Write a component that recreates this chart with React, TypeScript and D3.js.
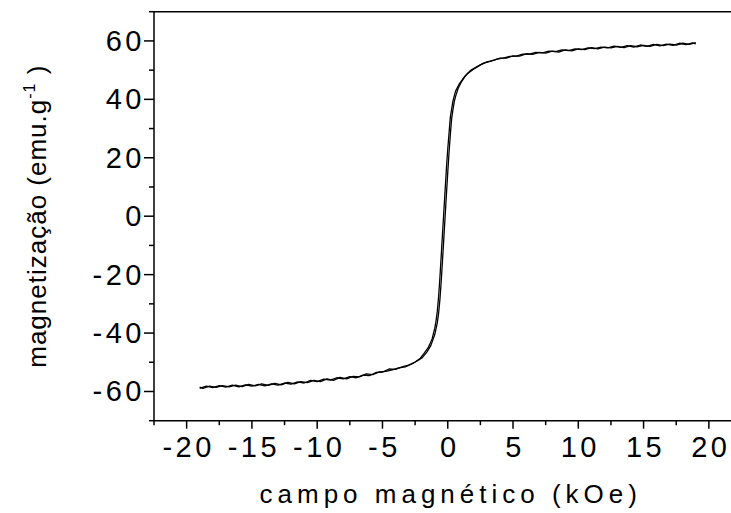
import * as d3 from "d3";
import { useEffect, useRef } from "react";

// descending branch (field swept from +19 kOe down to -19 kOe)
const fieldDown = [
  19.0, 18.5, 18.0, 17.5, 17.0, 16.5, 16.0, 15.5, 15.0, 14.5, 14.0, 13.5, 13.0, 12.5, 12.0,
  11.5, 11.0, 10.5, 10.0, 9.5, 9.0, 8.5, 8.0, 7.5, 7.0, 6.5, 6.0, 5.5, 5.0, 4.5, 4.0, 3.5,
  3.0, 2.5, 2.0, 1.5, 1.2, 0.9, 0.6, 0.4, 0.2, 0.0, -0.1, -0.2, -0.3, -0.4, -0.5, -0.6,
  -0.7, -0.8, -0.9, -1.0, -1.2, -1.5, -1.8, -2.1, -2.5, -3.0, -3.5, -4.0, -4.5, -5.0, -5.5,
  -6.0, -6.5, -7.0, -7.5, -8.0, -8.5, -9.0, -9.5, -10.0, -10.5, -11.0, -11.5, -12.0, -12.5,
  -13.0, -13.5, -14.0, -14.5, -15.0, -15.5, -16.0, -16.5, -17.0, -17.5, -18.0, -18.5, -19.0,
];
const magDown = [
  59.4, 58.8, 59.2, 58.6, 58.9, 58.4, 58.8, 58.1, 58.5, 58.0, 58.4, 57.7, 58.1, 57.6, 57.9,
  57.3, 57.7, 57.0, 57.3, 56.6, 56.9, 56.2, 56.5, 55.8, 56.1, 55.4, 55.6, 54.8, 54.9, 54.1,
  54.1, 53.3, 52.8, 51.8, 50.4, 48.8, 47.3, 45.4, 42.8, 39.5, 34.0, 23.0, 16.5, 9.0, 1.5,
  -6.0, -13.5, -21.0, -27.5, -32.5, -36.0, -38.5, -42.0, -45.0, -46.9, -48.6, -49.9, -51.0,
  -51.6, -52.4, -52.3, -53.4, -53.5, -54.6, -54.4, -55.3, -54.9, -55.7, -55.3, -56.1, -55.8,
  -56.6, -56.2, -57.1, -56.7, -57.5, -57.1, -57.8, -57.4, -58.1, -57.6, -58.2, -57.7, -58.4,
  -57.8, -58.5, -58.0, -58.7, -58.2, -58.9,
];

// ascending branch (field swept from -19 kOe up to +19 kOe)
const fieldUp = [
  -19.0, -18.75, -18.25, -17.75, -17.25, -16.75, -16.25, -15.75, -15.25, -14.75, -14.25,
  -13.75, -13.25, -12.75, -12.25, -11.75, -11.25, -10.75, -10.25, -9.75, -9.25, -8.75, -8.25,
  -7.75, -7.25, -6.75, -6.25, -5.75, -5.25, -4.75, -4.25, -3.75, -3.25, -2.75, -2.25, -1.95,
  -1.6, -1.3, -1.0, -0.8, -0.7, -0.6, -0.5, -0.4, -0.3, -0.2, -0.1, 0.0, 0.1, 0.2, 0.3, 0.4,
  0.5, 0.6, 0.8, 1.05, 1.35, 1.75, 2.25, 2.75, 3.25, 3.75, 4.25, 4.75, 5.25, 5.75, 6.25,
  6.75, 7.25, 7.75, 8.25, 8.75, 9.25, 9.75, 10.25, 10.75, 11.25, 11.75, 12.25, 12.75, 13.25,
  13.75, 14.25, 14.75, 15.25, 15.75, 16.25, 16.75, 17.25, 17.75, 18.25, 18.75, 19.0,
];
const magUp = [
  -58.5, -58.9, -58.2, -58.6, -58.0, -58.4, -57.8, -58.3, -57.6, -58.1, -57.4, -57.9, -57.2,
  -57.7, -56.9, -57.4, -56.6, -57.0, -56.2, -56.6, -55.7, -56.2, -55.2, -55.7, -54.8, -55.0,
  -54.0, -54.2, -53.3, -53.1, -52.6, -51.9, -51.6, -50.6, -49.3, -48.4, -46.5, -44.3, -40.6,
  -36.5, -33.2, -28.5, -22.3, -15.0, -7.5, 0.0, 7.5, 15.0, 22.0, 28.0, 33.5, 36.5, 39.2,
  41.0, 43.8, 46.0, 48.0, 49.9, 51.2, 52.4, 53.0, 53.8, 54.1, 54.7, 54.8, 55.5, 55.5, 56.1,
  55.9, 56.5, 56.3, 56.9, 56.7, 57.3, 57.0, 57.6, 57.4, 57.9, 57.6, 58.2, 57.8, 58.4, 57.9,
  58.6, 58.1, 58.8, 58.3, 58.9, 58.5, 59.2, 58.7, 59.3, 59.0,
];

const xMajor = [-20, -15, -10, -5, 0, 5, 10, 15, 20];
const xMinor = [-22.5, -17.5, -12.5, -7.5, -2.5, 2.5, 7.5, 12.5, 17.5];
const yMajor = [-60, -40, -20, 0, 20, 40, 60];
const yMinor = [-70, -50, -30, -10, 10, 30, 50, 70];

export default function App() {
  const ref = useRef<SVGSVGElement>(null);

  useEffect(() => {
    const svg = d3.select(ref.current);
    svg.selectAll("*").remove();

    const width = 731;
    const height = 513;
    const font = "'Liberation Sans', Arial, sans-serif";

    const x = d3.scaleLinear().domain([-22.5, 22.5]).range([154, 741.5]);
    const y = d3.scaleLinear().domain([-70, 70]).range([420.7, 11.7]);

    svg.attr("width", width).attr("height", height);

    // frame (only left, bottom and top are visible)
    svg.append("line")
      .attr("x1", x(-22.5)).attr("x2", x(22.5))
      .attr("y1", y(70)).attr("y2", y(70))
      .attr("stroke", "#000").attr("stroke-width", 1.5);
    svg.append("line")
      .attr("x1", x(22.5)).attr("x2", x(22.5))
      .attr("y1", y(70)).attr("y2", y(-70))
      .attr("stroke", "#000").attr("stroke-width", 1.5);

    const xAxis = svg.append("g").attr("transform", `translate(0,${y(-70)})`);
    xAxis.append("line")
      .attr("x1", x(-22.5)).attr("x2", x(22.5))
      .attr("stroke", "#000").attr("stroke-width", 1.5);
    xAxis.selectAll(".maj")
      .data(xMajor)
      .join("line")
      .attr("x1", d => x(d)).attr("x2", d => x(d))
      .attr("y1", 0).attr("y2", 8)
      .attr("stroke", "#000").attr("stroke-width", 1.5);
    xAxis.selectAll(".min")
      .data(xMinor)
      .join("line")
      .attr("x1", d => x(d)).attr("x2", d => x(d))
      .attr("y1", 0).attr("y2", 4.5)
      .attr("stroke", "#000").attr("stroke-width", 1.5);
    xAxis.selectAll("text")
      .data(xMajor)
      .join("text")
      .attr("x", d => x(d) + 2)
      .attr("y", 36.5)
      .attr("text-anchor", "middle")
      .attr("font-family", font)
      .attr("font-size", 29)
      .attr("letter-spacing", 3.5)
      .text(d => d);

    const yAxis = svg.append("g").attr("transform", `translate(${x(-22.5)},0)`);
    yAxis.append("line")
      .attr("y1", y(-70)).attr("y2", y(70))
      .attr("stroke", "#000").attr("stroke-width", 1.5);
    yAxis.selectAll(".maj")
      .data(yMajor)
      .join("line")
      .attr("y1", d => y(d)).attr("y2", d => y(d))
      .attr("x1", 0).attr("x2", -10)
      .attr("stroke", "#000").attr("stroke-width", 1.5);
    yAxis.selectAll(".min")
      .data(yMinor)
      .join("line")
      .attr("y1", d => y(d)).attr("y2", d => y(d))
      .attr("x1", 0).attr("x2", -5)
      .attr("stroke", "#000").attr("stroke-width", 1.5);
    yAxis.selectAll("text")
      .data(yMajor)
      .join("text")
      .attr("x", -9)
      .attr("y", d => y(d) + 10)
      .attr("text-anchor", "end")
      .attr("font-family", font)
      .attr("font-size", 29)
      .attr("letter-spacing", 3.5)
      .text(d => d);

    // hysteresis loop
    const line = d3.line<[number, number]>()
      .x(d => x(d[0]))
      .y(d => y(d[1]));
    const down = fieldDown.map((h, i) => [h, magDown[i]] as [number, number]);
    const up = fieldUp.map((h, i) => [h, magUp[i]] as [number, number]);
    [down, up].forEach(pts => {
      svg.append("path")
        .attr("d", line(pts))
        .attr("fill", "none")
        .attr("stroke", "#000")
        .attr("stroke-width", 1.3)
        .attr("stroke-linejoin", "round");
    });

    // axis titles
    svg.append("text")
      .attr("x", (x(-22.5) + x(22.5)) / 2 + 3)
      .attr("y", 503)
      .attr("text-anchor", "middle")
      .attr("font-family", font)
      .attr("font-size", 26)
      .attr("letter-spacing", 5)
      .text("campo magnético (kOe)");

    const yt = svg.append("text")
      .attr("transform", `translate(46,${(y(-70) + y(70)) / 2}) rotate(-90)`)
      .attr("text-anchor", "middle")
      .attr("font-family", font)
      .attr("font-size", 26)
      .attr("letter-spacing", 1);
    yt.append("tspan").text("magnetização (emu.g");
    yt.append("tspan").attr("font-size", 16).attr("dy", -11).text("-1");
    yt.append("tspan").attr("dy", 11).text(" )");
  }, []);

  return (
    <svg ref={ref} style={{ position: "absolute", left: 0, top: 0 }}></svg>
  );
}
